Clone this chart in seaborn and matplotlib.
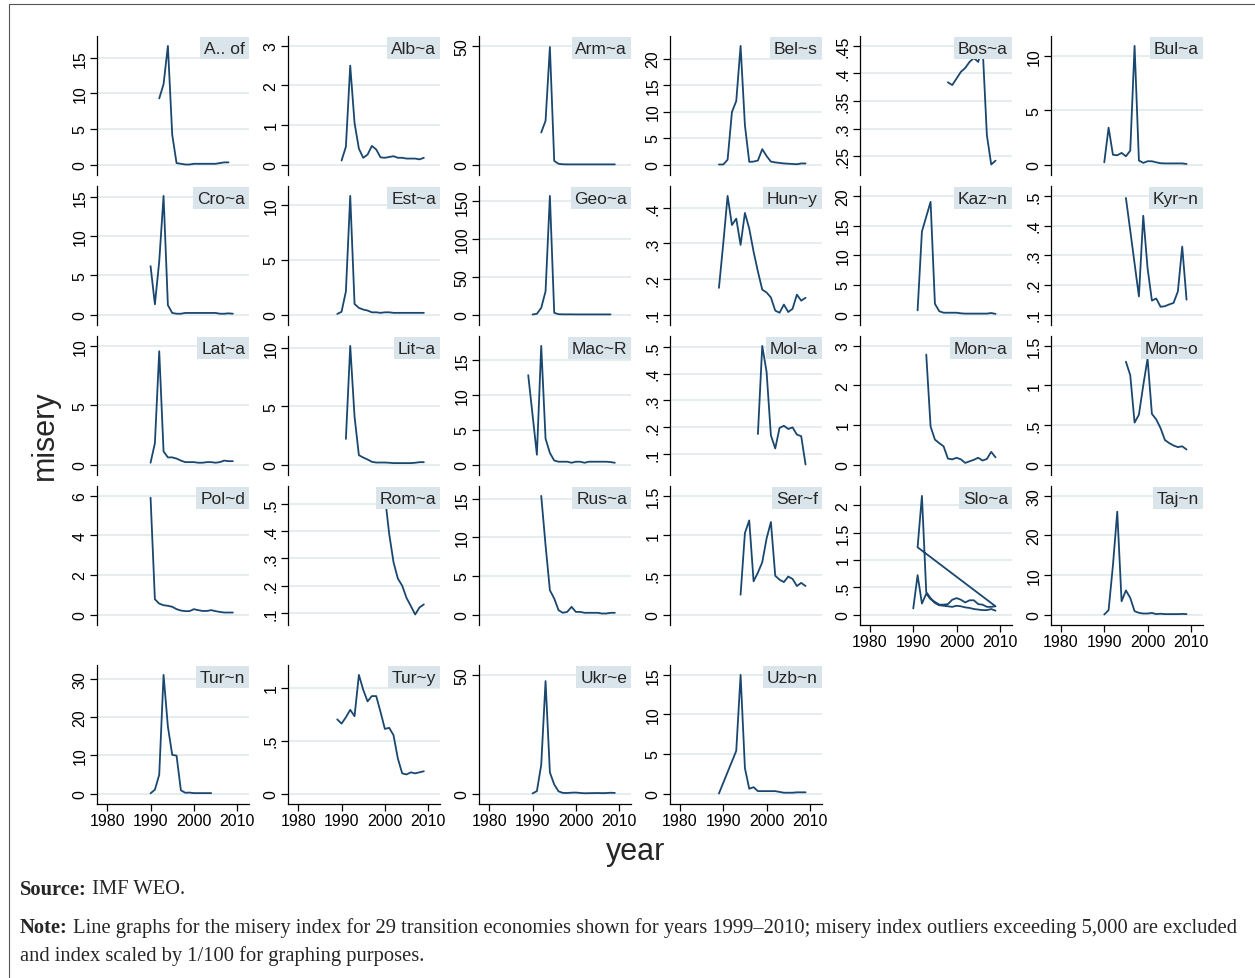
import numpy as np
import pandas as pd
import matplotlib
matplotlib.use("Agg")
import matplotlib.pyplot as plt
from matplotlib.lines import Line2D
import seaborn as sns

# ---------------- data (misery index / 100) ----------------
aze_start, aze = 1992, [9.3, 11.3, 16.7, 4.2, 0.2, 0.1, 0.0, 0.0, 0.1, 0.1, 0.1, 0.1, 0.1, 0.1, 0.2, 0.3, 0.3]
alb_start, alb = 1990, [0.1, 0.45, 2.5, 1.05, 0.4, 0.17, 0.25, 0.47, 0.38, 0.18, 0.17, 0.19, 0.21, 0.17, 0.17, 0.15, 0.15, 0.15, 0.13, 0.17]
arm_start, arm = 1992, [13.5, 18.4, 49.5, 1.5, 0.3, 0.1, 0.05, 0.05, 0.05, 0.05, 0.05, 0.05, 0.05, 0.05, 0.05, 0.05, 0.05, 0.05]
blr_start, blr = 1989, [0.0, 0.0, 0.9, 9.9, 12.0, 22.4, 7.4, 0.5, 0.55, 0.75, 2.9, 1.6, 0.55, 0.4, 0.3, 0.2, 0.15, 0.1, 0.05, 0.2, 0.2]
bih_start, bih = 1998, [0.384, 0.379, 0.391, 0.403, 0.41, 0.421, 0.428, 0.421, 0.45, 0.288, 0.235, 0.242]
bgr_start, bgr = 1990, [0.2, 3.4, 0.9, 0.85, 1.07, 0.76, 1.28, 10.95, 0.37, 0.15, 0.3, 0.3, 0.2, 0.12, 0.1, 0.1, 0.1, 0.1, 0.1, 0.05]
hrv_start, hrv = 1990, [6.2, 1.3, 6.8, 15.2, 1.2, 0.2, 0.1, 0.1, 0.2, 0.2, 0.2, 0.2, 0.2, 0.2, 0.2, 0.2, 0.1, 0.1, 0.15, 0.1]
est_start, est = 1989, [0.05, 0.25, 2.1, 10.8, 0.96, 0.6, 0.45, 0.36, 0.2, 0.2, 0.15, 0.2, 0.2, 0.15, 0.15, 0.15, 0.15, 0.15, 0.15, 0.15, 0.15]
geo_start, geo = 1990, [0.0, 0.9, 8.8, 30.7, 157.0, 2.2, 0.4, 0.2, 0.2, 0.2, 0.1, 0.1, 0.1, 0.1, 0.1, 0.1, 0.1, 0.1, 0.1]
hun_start, hun = 1989, [0.175, 0.30, 0.434, 0.352, 0.37, 0.296, 0.386, 0.342, 0.277, 0.221, 0.170, 0.162, 0.148, 0.111, 0.105, 0.128, 0.107, 0.116, 0.156, 0.139, 0.147]
kaz_start, kaz = 1991, [0.7, 14.0, 16.5, 19.0, 1.8, 0.55, 0.3, 0.3, 0.3, 0.3, 0.2, 0.15, 0.15, 0.15, 0.15, 0.15, 0.15, 0.25, 0.1]
kgz_start, kgz = 1995, [0.493, 0.383, 0.272, 0.161, 0.433, 0.256, 0.147, 0.154, 0.126, 0.128, 0.134, 0.139, 0.178, 0.329, 0.150]
lva_start, lva = 1990, [0.15, 1.8, 9.55, 1.1, 0.6, 0.6, 0.5, 0.33, 0.2, 0.2, 0.2, 0.15, 0.15, 0.2, 0.2, 0.15, 0.2, 0.33, 0.28, 0.28]
ltu_start, ltu = 1991, [2.2, 10.2, 4.1, 0.8, 0.6, 0.43, 0.23, 0.17, 0.17, 0.17, 0.15, 0.12, 0.12, 0.12, 0.12, 0.12, 0.15, 0.2, 0.2]
mkd_start, mkd = 1989, [12.8, 7.1, 1.4, 17.0, 3.7, 1.66, 0.57, 0.4, 0.4, 0.4, 0.25, 0.4, 0.4, 0.25, 0.4, 0.4, 0.4, 0.4, 0.4, 0.35, 0.25]
mda_start, mda = 1998, [0.174, 0.504, 0.407, 0.169, 0.12, 0.197, 0.205, 0.193, 0.199, 0.172, 0.166, 0.06]
mng_start, mng = 1993, [2.78, 0.96, 0.63, 0.54, 0.46, 0.15, 0.13, 0.17, 0.13, 0.04, 0.08, 0.12, 0.17, 0.1, 0.14, 0.32, 0.18]
mne_start, mne = 1995, [1.30, 1.13, 0.53, 0.63, 1.0, 1.34, 0.64, 0.57, 0.46, 0.31, 0.27, 0.24, 0.22, 0.23, 0.19]
pol_start, pol = 1990, [5.91, 0.77, 0.55, 0.47, 0.44, 0.39, 0.27, 0.2, 0.17, 0.17, 0.27, 0.22, 0.18, 0.18, 0.22, 0.17, 0.13, 0.1, 0.1, 0.1]
rou_start, rou = 2000, [0.53, 0.39, 0.286, 0.226, 0.2, 0.155, 0.125, 0.094, 0.12, 0.131]
rus_start, rus = 1992, [15.4, 9.0, 3.15, 2.07, 0.56, 0.22, 0.34, 0.99, 0.34, 0.34, 0.22, 0.22, 0.22, 0.22, 0.13, 0.13, 0.22, 0.22]
srb_start, srb = 1994, [0.25, 1.03, 1.19, 0.42, 0.53, 0.66, 0.96, 1.17, 0.49, 0.44, 0.41, 0.48, 0.45, 0.36, 0.40, 0.36]
svk_start, svk = 1990, [0.11, 0.72, 0.2, 0.38, 0.28, 0.23, 0.18, 0.18, 0.19, 0.27, 0.3, 0.27, 0.22, 0.26, 0.26, 0.19, 0.18, 0.14, 0.14, 0.15]
svn_start, svn = 1991, [1.23, 2.17, 0.41, 0.3, 0.21, 0.17, 0.16, 0.15, 0.14, 0.16, 0.15, 0.13, 0.12, 0.1, 0.09, 0.08, 0.08, 0.1, 0.07]
tjk_start, tjk = 1990, [0.0, 1.1, 12.4, 26.0, 3.35, 6.1, 4.2, 0.84, 0.42, 0.25, 0.25, 0.4, 0.1, 0.2, 0.1, 0.1, 0.1, 0.1, 0.15, 0.1]
tkm_start, tkm = 1990, [0.05, 1.0, 4.9, 31.0, 17.5, 10.1, 9.9, 0.84, 0.2, 0.24, 0.1, 0.1, 0.1, 0.1, 0.1]
tur_start, tur = 1989, [0.70, 0.66, 0.72, 0.79, 0.73, 1.12, 0.98, 0.87, 0.92, 0.92, 0.77, 0.61, 0.62, 0.55, 0.33, 0.19, 0.18, 0.20, 0.19, 0.20, 0.21]
ukr_start, ukr = 1990, [0.04, 1.0, 12.1, 47.4, 8.9, 3.8, 0.9, 0.25, 0.22, 0.35, 0.4, 0.23, 0.11, 0.14, 0.18, 0.21, 0.16, 0.19, 0.32, 0.25]
uzb_years = [1989, 1993, 1994, 1995, 1996, 1997, 1998, 1999, 2000, 2001, 2002, 2003, 2004, 2005, 2006, 2007, 2008, 2009]
uzb = [0.0, 5.4, 15.0, 3.2, 0.6, 0.8, 0.3, 0.3, 0.3, 0.3, 0.3, 0.2, 0.1, 0.1, 0.1, 0.15, 0.15, 0.15]

labels = ["A.. of", "Alb~a", "Arm~a", "Bel~s", "Bos~a", "Bul~a",
          "Cro~a", "Est~a", "Geo~a", "Hun~y", "Kaz~n", "Kyr~n",
          "Lat~a", "Lit~a", "Mac~R", "Mol~a", "Mon~a", "Mon~o",
          "Pol~d", "Rom~a", "Rus~a", "Ser~f", "Slo~a", "Taj~n",
          "Tur~n", "Tur~y", "Ukr~e", "Uzb~n"]

yticks = [[0, 5, 10, 15], [0, 1, 2, 3], [0, 50], [0, 5, 10, 15, 20], [.25, .3, .35, .4, .45], [0, 5, 10],
          [0, 5, 10, 15], [0, 5, 10], [0, 50, 100, 150], [.1, .2, .3, .4], [0, 5, 10, 15, 20], [.1, .2, .3, .4, .5],
          [0, 5, 10], [0, 5, 10], [0, 5, 10, 15], [.1, .2, .3, .4, .5], [0, 1, 2, 3], [0, .5, 1, 1.5],
          [0, 2, 4, 6], [.1, .2, .3, .4, .5], [0, 5, 10, 15], [0, .5, 1, 1.5], [0, .5, 1, 1.5, 2], [0, 10, 20, 30],
          [0, 10, 20, 30], [0, .5, 1], [0, 50], [0, 5, 10, 15]]

xticks = [1980, 1990, 2000, 2010]


def yrs(start, vals):
    return list(range(start, start + len(vals)))


series = [
    [(yrs(aze_start, aze), aze)], [(yrs(alb_start, alb), alb)], [(yrs(arm_start, arm), arm)],
    [(yrs(blr_start, blr), blr)], [(yrs(bih_start, bih), bih)], [(yrs(bgr_start, bgr), bgr)],
    [(yrs(hrv_start, hrv), hrv)], [(yrs(est_start, est), est)], [(yrs(geo_start, geo), geo)],
    [(yrs(hun_start, hun), hun)], [(yrs(kaz_start, kaz), kaz)], [(yrs(kgz_start, kgz), kgz)],
    [(yrs(lva_start, lva), lva)], [(yrs(ltu_start, ltu), ltu)], [(yrs(mkd_start, mkd), mkd)],
    [(yrs(mda_start, mda), mda)], [(yrs(mng_start, mng), mng)], [(yrs(mne_start, mne), mne)],
    [(yrs(pol_start, pol), pol)], [(yrs(rou_start, rou), rou)], [(yrs(rus_start, rus), rus)],
    [(yrs(srb_start, srb), srb)], [(yrs(svk_start, svk), svk), (yrs(svn_start, svn), svn)],
    [(yrs(tjk_start, tjk), tjk)],
    [(yrs(tkm_start, tkm), tkm)], [(yrs(tur_start, tur), tur)], [(yrs(ukr_start, ukr), ukr)],
    [(uzb_years, uzb)],
]

# ---------------- style ----------------
sns.set_theme(style="white")
plt.rcParams['font.family'] = ['Liberation Sans', 'DejaVu Sans']

NAVY = "#1a476f"
GRID = "#e5edef"
BOX = "#d9e5eb"

W, H = 1255, 979
fig = plt.figure(figsize=(W / 100, H / 100), dpi=100)
fig.patch.set_facecolor("white")

col_x = [97.3, 288.3, 479.3, 670.0, 860.0, 1051.0]
row_top = [36.7, 186.7, 336.7, 486.7, 665.7]
pw, ph = 152, 139


def fmt(v):
    s = f"{v:g}"
    if s.startswith("0."):
        s = s[1:]
    return s


for i, lab in enumerate(labels):
    r, c = divmod(i, 6)
    ax = fig.add_axes([col_x[c] / W, 1 - (row_top[r] + ph) / H, pw / W, ph / H])
    xs, ys = [], []
    for yy, vv in series[i]:
        xs += list(yy)
        ys += list(vv)
    df = pd.DataFrame({"year": xs, "misery": ys})
    sns.lineplot(data=df, x="year", y="misery", ax=ax, sort=False, estimator=None,
                 color=NAVY, lw=1.3, zorder=3)
    t = yticks[i]
    lo, hi = min(t[0], min(ys)), max(t[-1], max(ys))
    pad = 0.086 * (hi - lo)
    ax.set_ylim(lo - pad, hi + pad)
    ax.set_xlim(1977.7, 2012.8)
    ax.set_yticks(t)
    ax.set_yticklabels([fmt(v) for v in t], rotation=90, va="center")
    ax.tick_params(axis="y", length=5, width=0.9, pad=2, labelsize=11.5, colors="black",
                   direction="out", left=True)
    ax.yaxis.grid(True, color=GRID, lw=1.5)
    ax.xaxis.grid(False)
    ax.set_axisbelow(True)
    ax.set_xlabel("")
    ax.set_ylabel("")
    for s in ["top", "right"]:
        ax.spines[s].set_visible(False)
    ax.spines["left"].set_color("black")
    ax.spines["left"].set_linewidth(0.9)
    bottom = (r == 4) or (r == 3 and c >= 4)
    if bottom:
        ax.spines["bottom"].set_color("black")
        ax.spines["bottom"].set_linewidth(0.9)
        ax.set_xticks(xticks)
        ax.set_xticklabels([str(v) for v in xticks])
        ax.tick_params(axis="x", length=5, width=0.9, pad=2, labelsize=11.5, colors="black",
                       direction="out", bottom=True)
    else:
        ax.spines["bottom"].set_visible(False)
        ax.set_xticks([])
    ax.patch.set_alpha(0)
    ax.annotate(lab, xy=(1, 1), xycoords="axes fraction", xytext=(-3, -3.5),
                textcoords="offset points", ha="right", va="top", fontsize=12.5,
                zorder=10, bbox=dict(boxstyle="square,pad=0.22", fc=BOX, ec="none"))

fig.text(45 / W, 1 - 435 / H, "misery", rotation=90, ha="center", va="center", fontsize=22)
fig.text(636 / W, 1 - 852 / H, "year", ha="center", va="center", fontsize=22)

# outer frame of the figure box (left and top edges)
fig.add_artist(Line2D([8.5 / W, 8.5 / W], [0, 1 - 5 / H], transform=fig.transFigure,
                      color="#555555", lw=0.8))
fig.add_artist(Line2D([8.5 / W, 1], [1 - 5 / H, 1 - 5 / H], transform=fig.transFigure,
                      color="#555555", lw=0.8))

# footer
serif = ['Liberation Serif', 'DejaVu Serif']
renderer = fig.canvas.get_renderer()
note1 = ("Line graphs for the misery index for 29 transition economies shown for years 1999\u20132010; "
         "misery index outliers exceeding 5,000 are excluded")
note2 = "and index scaled by 1/100 for graphing purposes."

fs = 13
tmp = fig.text(0, 0, "Note: " + note1, fontsize=fs, family=serif)
wpx = tmp.get_window_extent(renderer).width
tmp.remove()
fs = fs * 1214 / wpx


def bold_lead(x, y, lead, rest):
    t1 = fig.text(x / W, 1 - y / H, lead, fontsize=fs, family=serif, weight="bold", va="center")
    w1 = t1.get_window_extent(renderer).width
    fig.text((x + w1) / W, 1 - y / H, " " + rest, fontsize=fs, family=serif, va="center")


bold_lead(20, 890, "Source:", "IMF WEO.")
bold_lead(20, 928, "Note:", note1)
fig.text(20 / W, 1 - 956 / H, note2, fontsize=fs, family=serif, va="center")

fig.savefig("out.png", dpi=100)
